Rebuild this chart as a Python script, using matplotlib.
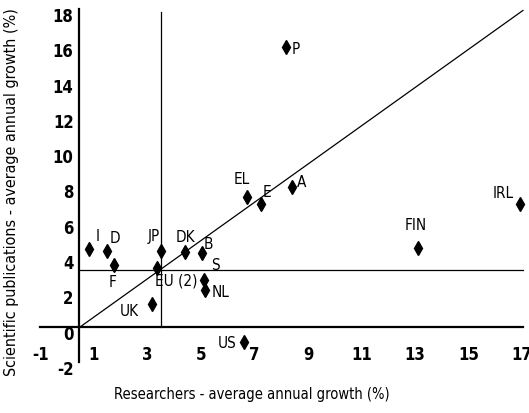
import matplotlib
matplotlib.use("Agg")
import matplotlib.pyplot as plt

plt.rcParams['font.family'] = ['DejaVu Sans']
plt.rcParams['font.stretch'] = 'condensed'
plt.rcParams['axes.unicode_minus'] = False

# country codes and growth rates (%)
countries = ["I", "D", "F", "JP", "EU (2)", "DK", "B", "S", "NL", "UK",
             "EL", "E", "A", "P", "FIN", "IRL", "US"]
researchers = [0.82, 1.49, 1.76, 3.51, 3.35, 4.41, 5.04, 5.12, 5.15, 3.17,
               6.72, 7.25, 8.40, 8.18, 13.11, 16.92, 6.61]
publications = [4.69, 4.57, 3.78, 4.57, 3.62, 4.52, 4.47, 2.95, 2.35, 1.57,
                 7.63, 7.24, 8.20, 16.13, 4.74, 7.24, -0.59]

# EU averages (reference cross) and the trend line through them
eu_x = 3.5
eu_y = 3.5
trend_x = [0.5, 17.03]
trend_y = [0.28, 18.2]

x_ticks = [-1, 1, 3, 5, 7, 9, 11, 13, 15, 17]
y_ticks = [-2, 0, 2, 4, 6, 8, 10, 12, 14, 16, 18]

# label offsets in points (layout only)
label_offsets = {
    "I": (6, 10), "D": (6, 10), "F": (-1, -12), "JP": (-5, 11),
    "EU (2)": (14, -9), "DK": (0, 11), "B": (5, 7), "S": (8, 11),
    "NL": (11, -1), "UK": (-16, -5), "EL": (-4, 13), "E": (4, 9),
    "A": (7, 4), "P": (7, -1), "FIN": (-2, 17), "IRL": (-12, 8),
    "US": (-12, 0),
}

W, H = 529, 414
fig = plt.figure(figsize=(W / 100, H / 100), dpi=100)
ax = fig.add_axes([26.8 / W, (H - 373.3) / H, 500.7 / W, 365.4 / H])
ax.set_xlim(-1.5, 17.2)
ax.set_ylim(-2.3, 18.4)

for side in ("top", "right"):
    ax.spines[side].set_visible(False)
ax.spines["left"].set_position(("data", 0.45))
ax.spines["bottom"].set_position(("data", 0.25))
ax.spines["left"].set_bounds(-1.72, 18.28)
ax.spines["bottom"].set_bounds(-1.0, 17.03)
for side in ("left", "bottom"):
    ax.spines[side].set_linewidth(1.6)
    ax.spines[side].set_color("black")

ax.set_xticks(x_ticks)
ax.set_yticks(y_ticks)
ax.tick_params(axis="both", length=0, labelsize=12)
ax.tick_params(axis="x", pad=13)
ax.tick_params(axis="y", pad=4)
for lbl in ax.get_xticklabels() + ax.get_yticklabels():
    lbl.set_fontweight("bold")

# EU reference cross
ax.plot([eu_x, eu_x], [0.25, 18.1], color="black", lw=0.9)
ax.plot([0.45, 17.03], [eu_y, eu_y], color="black", lw=0.9)
ax.plot(trend_x, trend_y, color="black", lw=0.9)

ax.plot(researchers, publications, linestyle="none", marker="d",
        markersize=7, color="black")

for name, x, y in zip(countries, researchers, publications):
    dx, dy = label_offsets[name]
    ax.annotate(name, (x, y), xytext=(dx, dy), textcoords="offset points",
                ha="center", va="center", fontsize=11)

fig.text(252 / W, 1 - 395 / H, "Researchers - average annual growth (%)",
         ha="center", va="center", fontsize=10.5)
fig.text(12 / W, 1 - 192 / H,
         "Scientific publications - average annual growth (%)",
         ha="center", va="center", rotation=90, fontsize=11.5)

fig.savefig("out.png", dpi=100)
